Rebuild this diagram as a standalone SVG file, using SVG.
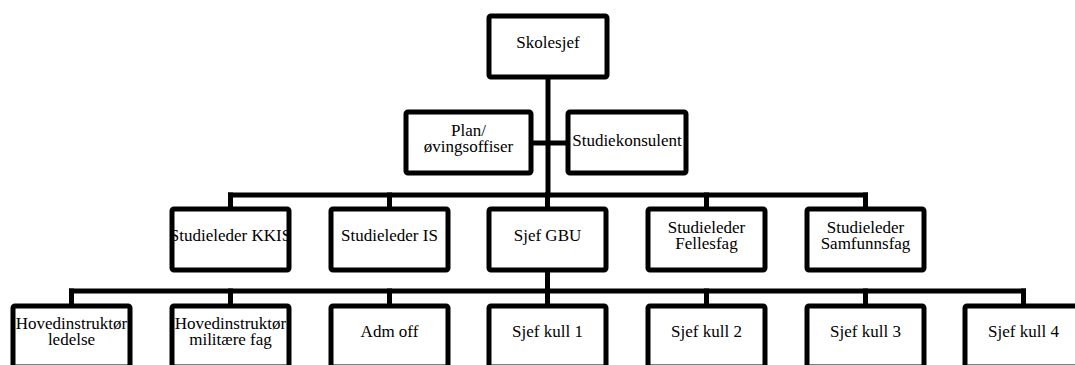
<svg xmlns="http://www.w3.org/2000/svg" width="1075" height="365" viewBox="0 0 1075 365">
  <style>
    .box { fill: #ffffff; stroke: #000000; stroke-width: 5; }
    .link { fill: none; stroke: #000000; stroke-width: 5; stroke-linecap: square; }
    text { font-family: "Liberation Serif", "DejaVu Serif", serif; font-size: 17px; fill: #000000; text-anchor: middle; }
  </style>
  <rect width="1075" height="365" fill="#ffffff"/>

  <!-- connectors -->
  <g id="connectors">
    <!-- trunk from the top -->
    <path class="link" d="M548 77 V195"/>
    <!-- staff line -->
    <path class="link" d="M531 143 H568"/>
    <!-- level 2 bus and stubs -->
    <path class="link" d="M230.5 195 H865.5"/>
    <path class="link" d="M230.5 195 V209 M389.5 195 V209 M547.5 195 V209 M706.5 195 V209 M865.5 195 V209"/>
    <!-- level 3 bus and stubs -->
    <path class="link" d="M547.5 270 V291"/>
    <path class="link" d="M71.5 291 H1023.5"/>
    <path class="link" d="M71.5 291 V306 M230.5 291 V306 M389.5 291 V306 M547.5 291 V306 M706.5 291 V306 M865.5 291 V306 M1023.5 291 V306"/>
  </g>

  <!-- top -->
  <g id="skolesjef">
    <rect class="box" x="489" y="16" width="118" height="61" rx="2"/>
    <text x="548" y="48">Skolesjef</text>
  </g>

  <!-- staff -->
  <g id="plan">
    <rect class="box" x="406" y="112" width="125" height="61" rx="2"/>
    <text x="468.5" y="136">Plan/<tspan x="468.5" dy="16">øvingsoffiser</tspan></text>
  </g>
  <g id="studiekonsulent">
    <rect class="box" x="568" y="112" width="118" height="61" rx="2"/>
    <text x="627" y="146">Studiekonsulent</text>
  </g>

  <!-- level 2 -->
  <g id="kkis">
    <rect class="box" x="172" y="209" width="117" height="61" rx="2"/>
    <text x="230.5" y="241">Studieleder KKIS</text>
  </g>
  <g id="is">
    <rect class="box" x="331" y="209" width="117" height="61" rx="2"/>
    <text x="389.5" y="241">Studieleder IS</text>
  </g>
  <g id="gbu">
    <rect class="box" x="489" y="209" width="117" height="61" rx="2"/>
    <text x="547.5" y="241">Sjef GBU</text>
  </g>
  <g id="fellesfag">
    <rect class="box" x="648" y="209" width="117" height="61" rx="2"/>
    <text x="706.5" y="233">Studieleder<tspan x="706.5" dy="16">Fellesfag</tspan></text>
  </g>
  <g id="samfunnsfag">
    <rect class="box" x="807" y="209" width="117" height="61" rx="2"/>
    <text x="865.5" y="233">Studieleder<tspan x="865.5" dy="16">Samfunnsfag</tspan></text>
  </g>

  <!-- level 3 -->
  <g id="ledelse">
    <rect class="box" x="13" y="306" width="117" height="61" rx="2"/>
    <text x="71.5" y="329">Hovedinstruktør<tspan x="71.5" dy="16">ledelse</tspan></text>
  </g>
  <g id="militaere">
    <rect class="box" x="172" y="306" width="117" height="61" rx="2"/>
    <text x="230.5" y="329">Hovedinstruktør<tspan x="230.5" dy="16">militære fag</tspan></text>
  </g>
  <g id="admoff">
    <rect class="box" x="331" y="306" width="117" height="61" rx="2"/>
    <text x="389.5" y="337">Adm off</text>
  </g>
  <g id="kull1">
    <rect class="box" x="489" y="306" width="117" height="61" rx="2"/>
    <text x="547.5" y="337">Sjef kull 1</text>
  </g>
  <g id="kull2">
    <rect class="box" x="648" y="306" width="117" height="61" rx="2"/>
    <text x="706.5" y="337">Sjef kull 2</text>
  </g>
  <g id="kull3">
    <rect class="box" x="807" y="306" width="117" height="61" rx="2"/>
    <text x="865.5" y="337">Sjef kull 3</text>
  </g>
  <g id="kull4">
    <rect class="box" x="965" y="306" width="117" height="61" rx="2"/>
    <text x="1023.5" y="337">Sjef kull 4</text>
  </g>
</svg>
